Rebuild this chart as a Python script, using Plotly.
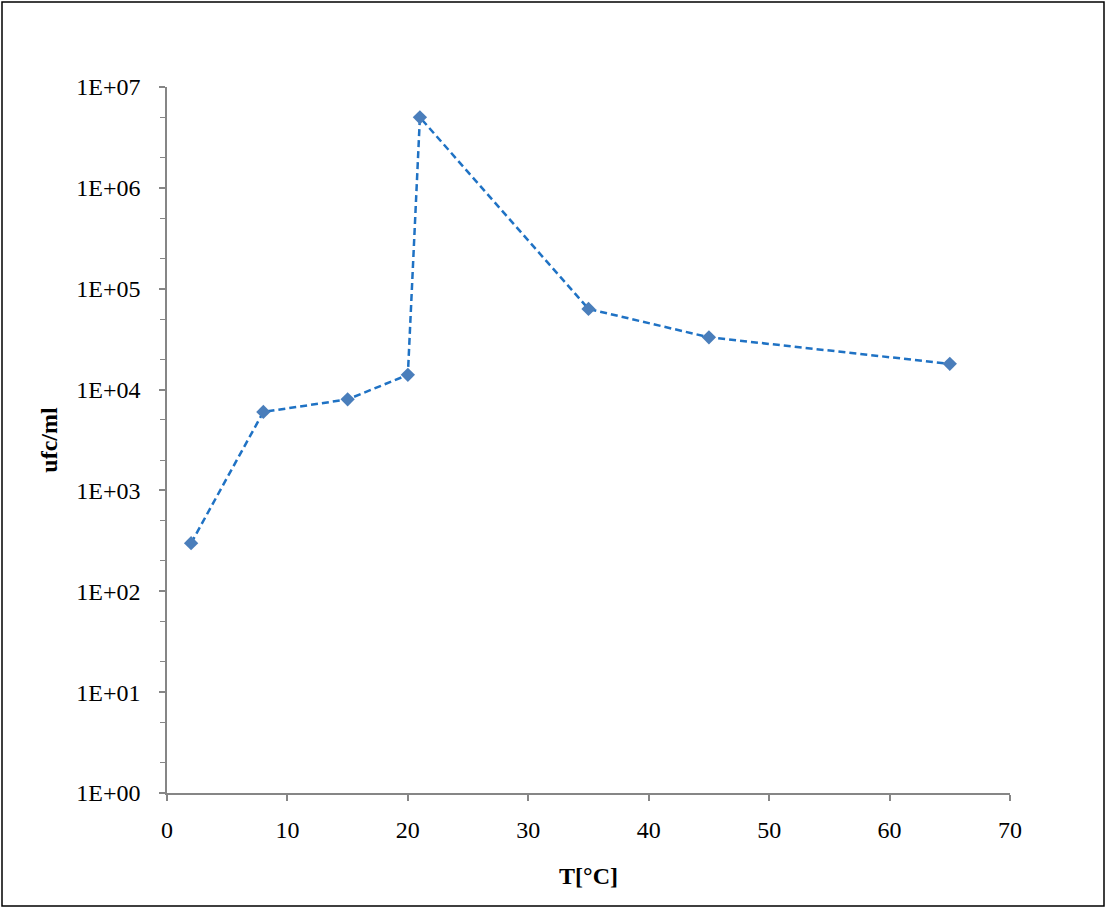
import plotly.graph_objects as go

temps = [2, 8, 15, 20, 21, 35, 45, 65]
ufc = [300, 6000, 8000, 14000, 5.0e6, 63000, 33000, 18000]
y_tickvals = [1, 10, 100, 1e3, 1e4, 1e5, 1e6, 1e7]
y_ticktext = ["1E+00", "1E+01", "1E+02", "1E+03", "1E+04", "1E+05", "1E+06", "1E+07"]
x_tickvals = [0, 10, 20, 30, 40, 50, 60, 70]

fig = go.Figure()
fig.add_trace(go.Scatter(
    x=temps, y=ufc, mode="lines+markers",
    line=dict(color="#1F72C4", width=2.5, dash="7px,4px"),
    marker=dict(symbol="diamond", size=11, color="#4A7EBB"),
    showlegend=False,
))

font_family = "Liberation Serif, Times New Roman, serif"
fig.update_layout(
    width=1106, height=908,
    margin=dict(l=167, r=96, t=87, b=115),
    paper_bgcolor="white", plot_bgcolor="white",
    font=dict(family=font_family, size=24, color="black"),
    shapes=[dict(type="rect", xref="paper", yref="paper",
                 x0=-165/843, x1=1+94/843, y0=-113/706, y1=1+85/706,
                 line=dict(color="black", width=1.5))],
)
fig.update_xaxes(
    range=[0, 70], tickvals=x_tickvals, showgrid=False, zeroline=False,
    showline=True, linecolor="#868686", linewidth=1.5,
    ticks="outside", ticklen=6, tickcolor="#868686", tickwidth=1.5,
    ticklabelstandoff=8,
    title=dict(text="<b>T[°C]</b>", font=dict(size=24), standoff=26),
)
fig.update_yaxes(
    type="log", range=[0, 7], tickvals=y_tickvals, ticktext=y_ticktext,
    showgrid=False, zeroline=False,
    showline=True, linecolor="#868686", linewidth=1.5,
    ticks="outside", ticklen=6, tickcolor="#868686", tickwidth=1.5,
    ticklabelstandoff=14,
    minor=dict(ticks="outside", ticklen=5, tickcolor="#868686", tickwidth=1, showgrid=False),
    title=dict(text="<b>ufc/ml</b>", font=dict(size=24), standoff=12),
)
fig.write_html("out.html")
